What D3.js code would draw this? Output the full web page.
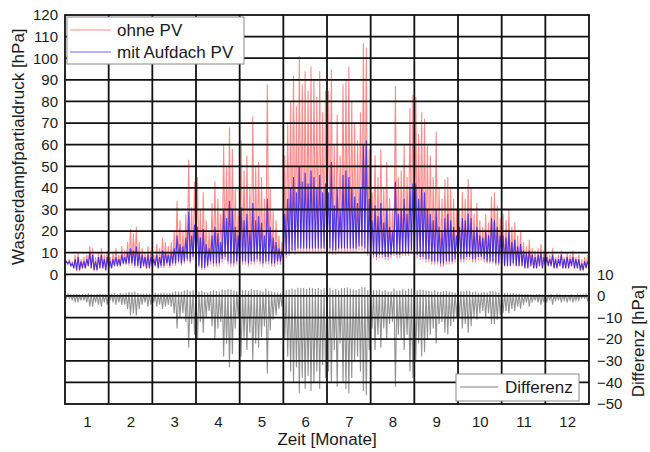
<!DOCTYPE html>
<html>
<head>
<meta charset="utf-8">
<script src="https://cdn.jsdelivr.net/npm/d3@7"></script>
<style>
  body { margin: 0; background: #fff; }
  svg { font-family: "Liberation Sans", Arial, sans-serif; }
</style>
</head>
<body>
<div id="chart"></div>
<script>
// Monate (Achsenbeschriftung)
var monate = [1, 2, 3, 4, 5, 6, 7, 8, 9, 10, 11, 12];
var linkeTicks = [0, 10, 20, 30, 40, 50, 60, 70, 80, 90, 100, 110, 120];
var rechteTicks = [-50, -40, -30, -20, -10, 0, 10];

// je Monat 15 Abschnitte (ca. 2 Tage), Werte aus dem Bild abgelesen
// ohne PV: Spitzen [hPa]
var ohnePV = [
  6, 7, 6, 9, 10, 7, 8, 9, 13, 12, 8, 10, 12, 9, 11,
  8, 10, 12, 9, 13, 11, 15, 21, 19, 22, 15, 12, 10, 13, 11,
  9, 14, 12, 17, 15, 13, 15, 20, 34, 25, 20, 28, 53, 31, 43,
  45, 30, 38, 25, 20, 33, 43, 35, 28, 60, 50, 68, 58, 40, 30,
  62, 48, 55, 40, 73, 50, 52, 45, 35, 88, 40, 30, 25, 18, 15,
  55, 70, 80, 92, 78, 101, 88, 94, 85, 96, 90, 82, 94, 75, 85,
  85, 95, 60, 74, 55, 88, 90, 96, 80, 70, 62, 75, 107, 105, 58,
  38, 55, 45, 58, 40, 52, 35, 30, 87, 45, 48, 60, 45, 77, 83,
  82, 65, 75, 72, 60, 55, 45, 66, 40, 35, 44, 45, 40, 35, 30,
  30, 38, 35, 44, 40, 28, 33, 25, 22, 28, 24, 36, 38, 32, 26,
  28, 25, 30, 22, 24, 18, 20, 15, 13, 16, 12, 11, 12, 14, 11,
  10, 9, 12, 8, 9, 11, 8, 10, 9, 11, 8, 9, 7, 8, 9
];
// ohne PV: untere Werte (nachts)
var ohneBasis = [
  4.5, 4.5, 3.5, 2.5, 1.5, 1.5, 2.5, 2.5, 3.5, 2.5, 1.5, 1.5, 2.5, 2.5, 1.5,
  2.5, 2.5, 3.5, 3.5, 3.5, 4.5, 4.5, 4, 4, 3, 3, 2.5, 3.5, 2.5, 2.5,
  3.5, 3.5, 2.5, 3, 3, 4, 3, 4, 4, 5, 4, 5, 6, 5, 6.5,
  5.5, 3, 2, 2, 3, 4.5, 3.5, 3.5, 3.5, 5.5, 6.5, 4.5, 3.5, 3.5, 4.5,
  5.5, 4.5, 4.5, 3.5, 4.5, 4.5, 5.5, 4.5, 3.5, 4.5, 4.5, 3.5, 3.5, 4.5, 4.5,
  6.5, 7.5, 8.5, 9.5, 9, 10, 10, 10, 10, 10, 10, 10, 10, 10, 10,
  10, 10, 9, 9, 10, 10, 10, 10, 10, 10, 10, 11, 11, 10, 8.5,
  8.5, 7.5, 6.5, 7.5, 7.5, 6.5, 6.5, 7.5, 8.5, 7.5, 7.5, 8.5, 8.5, 8.5, 9.5,
  7.5, 7.5, 6.5, 6.5, 5.5, 5.5, 4.5, 4.5, 4.5, 3.5, 3.5, 4.5, 4.5, 4.5, 5.5,
  6.5, 5.5, 5.5, 6.5, 6.5, 5.5, 5.5, 6.5, 6.5, 5.5, 5, 5, 5, 4, 4,
  4, 3.5, 3.5, 3.5, 4, 3.5, 3.5, 3.5, 2.5, 2.5, 3.5, 2.5, 2.5, 3.5, 2.5,
  3.5, 3.5, 3.5, 2.5, 2.5, 3.5, 2.5, 2.5, 2.5, 3.5, 2.5, 2.5, 1.5, 1.5, 2.5
];
// mit Aufdach PV: Spitzen
var mitPV = [
  6, 6, 5, 7, 8, 6, 6, 7, 10, 9, 6, 8, 9, 7, 8,
  6, 7, 8, 7, 9, 8, 10, 12, 11, 13, 10, 9, 8, 9, 8,
  7, 9, 8, 11, 10, 9, 10, 12, 18, 14, 13, 17, 29, 18, 23,
  22, 17, 21, 14, 12, 18, 22, 19, 15, 30, 26, 34, 30, 22, 18,
  31, 25, 28, 20, 33, 25, 27, 24, 18, 35, 22, 17, 15, 12, 11,
  28, 35, 40, 45, 38, 50, 43, 47, 42, 48, 45, 40, 46, 38, 42,
  38, 52, 32, 40, 30, 46, 48, 45, 40, 36, 33, 40, 60, 62, 35,
  25, 32, 27, 33, 24, 30, 22, 20, 43, 28, 30, 35, 28, 40, 42,
  42, 35, 40, 38, 30, 28, 25, 30, 22, 20, 26, 28, 25, 22, 18,
  22, 26, 25, 28, 26, 20, 22, 18, 17, 20, 18, 26, 25, 22, 18,
  18, 17, 20, 15, 16, 13, 14, 11, 10, 11, 9, 8, 9, 10, 8,
  8, 7, 9, 7, 7, 9, 7, 8, 7, 8, 7, 7, 5, 6, 6
];
// mit Aufdach PV: untere Werte
var mitBasis = [
  5, 5, 4, 3, 2, 2, 3, 3, 4, 3, 2, 2, 3, 3, 2,
  3, 3, 4, 4, 4, 5, 5, 5, 5, 4, 4, 3, 4, 3, 3,
  4, 4, 3, 4, 4, 5, 4, 5, 5, 6, 5, 6, 7, 6, 8,
  7, 4, 3, 3, 4, 6, 5, 5, 5, 7, 8, 6, 5, 5, 6,
  7, 6, 6, 5, 6, 6, 7, 6, 5, 6, 6, 5, 5, 6, 6,
  8, 9, 10, 11, 11, 12, 12, 12, 12, 12, 12, 12, 12, 12, 12,
  12, 12, 11, 11, 12, 12, 12, 12, 12, 12, 12, 13, 13, 12, 10,
  10, 9, 8, 9, 9, 8, 8, 9, 10, 9, 9, 10, 10, 10, 11,
  9, 9, 8, 8, 7, 7, 6, 6, 6, 5, 5, 6, 6, 6, 7,
  8, 7, 7, 8, 8, 7, 7, 8, 8, 7, 6, 6, 6, 5, 5,
  5, 4, 4, 4, 5, 4, 4, 4, 3, 3, 4, 3, 3, 4, 3,
  4, 4, 4, 3, 3, 4, 3, 3, 3, 4, 3, 3, 2, 2, 3
];
// Differenz: tiefste Werte (mittags)
var diffMin = [
  -1, -1, -2, -3, -3, -2, -2, -3, -5, -5, -3, -4, -5, -3, -4,
  -2, -3, -4, -3, -4, -4, -6, -9, -8, -9, -6, -4, -3, -5, -4,
  -3, -5, -4, -6, -5, -4, -5, -8, -15, -10, -8, -12, -24, -13, -18,
  -20, -12, -17, -10, -7, -14, -20, -15, -12, -28, -22, -33, -27, -15, -10,
  -28, -20, -25, -17, -30, -22, -24, -19, -14, -36, -16, -11, -9, -6, -5,
  -20, -28, -35, -40, -33, -45, -38, -43, -37, -44, -40, -35, -43, -32, -38,
  -35, -40, -25, -42, -22, -40, -43, -45, -38, -30, -28, -35, -44, -46, -25,
  -15, -25, -18, -24, -15, -20, -13, -12, -42, -18, -20, -25, -18, -35, -38,
  -30, -22, -28, -26, -20, -18, -15, -22, -13, -12, -17, -18, -14, -12, -10,
  -10, -15, -13, -17, -14, -10, -11, -8, -7, -10, -8, -13, -13, -11, -9,
  -8, -7, -8, -6, -7, -5, -6, -4, -3, -5, -3, -2, -3, -4, -3,
  -3, -2, -4, -2, -2, -3, -2, -3, -2, -3, -2, -2, -1, -1, -2
];
// Differenz: hoechste Werte (nachts)
var diffMax = [
  0.5, 0.8, 0.6, 0.7, 1.0, 0.6, 0.8, 0.7, 1.2, 1.0, 0.7, 0.9, 1.1, 0.8, 0.9,
  0.8, 1.0, 1.2, 0.9, 1.3, 1.1, 1.5, 1.8, 1.6, 1.9, 1.3, 1.1, 1.0, 1.2, 1.0,
  1.0, 1.3, 1.1, 1.5, 1.4, 1.2, 1.5, 1.7, 2.2, 2.0, 1.8, 2.5, 2.8, 2.3, 2.6,
  2.5, 2.0, 2.4, 1.8, 1.6, 2.2, 2.6, 2.3, 2.0, 3.0, 2.8, 3.2, 3.0, 2.5, 2.2,
  3.0, 2.6, 2.8, 2.3, 3.2, 2.7, 2.9, 2.5, 2.1, 3.5, 2.4, 2.0, 1.8, 1.6, 1.5,
  2.2, 2.6, 3.0, 3.4, 3.0, 3.8, 3.5, 3.7, 3.3, 3.8, 3.6, 3.2, 3.7, 3.0, 3.4,
  3.4, 3.8, 2.8, 3.2, 2.6, 3.6, 3.7, 3.9, 3.4, 3.0, 2.8, 3.2, 4.0, 4.0, 2.6,
  2.4, 2.8, 2.5, 2.9, 2.3, 2.7, 2.1, 2.0, 3.6, 2.5, 2.6, 3.0, 2.5, 3.3, 3.4,
  3.2, 2.6, 3.0, 2.9, 2.5, 2.3, 2.1, 2.6, 2.0, 1.8, 2.2, 2.3, 2.0, 1.8, 1.6,
  2.0, 2.4, 2.2, 2.6, 2.4, 1.8, 2.0, 1.6, 1.5, 1.8, 1.6, 2.2, 2.2, 1.9, 1.6,
  1.4, 1.3, 1.5, 1.2, 1.3, 1.0, 1.1, 0.9, 0.8, 0.9, 0.7, 0.6, 0.7, 0.8, 0.6,
  0.7, 0.6, 0.8, 0.5, 0.6, 0.7, 0.5, 0.6, 0.5, 0.7, 0.5, 0.5, 0.4, 0.5, 0.6
];

var proMonat = 15;

// set the dimensions and margins
var margin = {top: 15, right: 61, bottom: 48, left: 65},
    width = 650 - margin.left - margin.right,
    height = 452 - margin.top - margin.bottom;

var svg = d3.select('#chart').append('svg')
  .attr('width', 650)
  .attr('height', 452);

var g = svg.append('g')
  .attr('transform', 'translate(' + margin.left + ',' + margin.top + ')');

// scales
var x = d3.scaleLinear().domain([0, 12]).range([0, width]);
var y = d3.scaleLinear().domain([-60, 120]).range([height, 0]);
var yR = d3.scaleLinear().domain([-50, 130]).range([height, 0]);

g.append('clipPath').attr('id', 'clip')
  .append('rect').attr('width', width).attr('height', height);

// Zickzack: unten am Abschnittsanfang, Spitze in der Mitte
function zickzack(unten, oben) {
  var pts = [];
  unten.forEach(function(b, i) {
    pts.push([i / proMonat, b]);
    pts.push([(i + 0.5) / proMonat, oben[i]]);
  });
  pts.push([12, unten[unten.length - 1]]);
  return pts;
}

var lineL = d3.line().x(function(d) { return x(d[0]); }).y(function(d) { return y(d[1]); });
var lineR = d3.line().x(function(d) { return x(d[0]); }).y(function(d) { return yR(d[1]); });

var daten = g.append('g').attr('clip-path', 'url(#clip)');

daten.append('path')
  .attr('d', lineL(zickzack(ohneBasis, ohnePV)))
  .attr('fill', 'none')
  .attr('stroke', '#ff0000')
  .attr('stroke-opacity', 0.45)
  .attr('stroke-width', 1.1);

daten.append('path')
  .attr('d', lineL(zickzack(mitBasis, mitPV)))
  .attr('fill', 'none')
  .attr('stroke', '#0000ff')
  .attr('stroke-opacity', 0.7)
  .attr('stroke-width', 1.1);

daten.append('path')
  .attr('d', lineR(zickzack(diffMax, diffMin)))
  .attr('fill', 'none')
  .attr('stroke', '#808080')
  .attr('stroke-opacity', 0.85)
  .attr('stroke-width', 1.1);

// grid (liegt ueber den Daten)
var grid = g.append('g').attr('stroke', '#111').attr('stroke-width', 1.8);
grid.selectAll('.hg')
  .data(d3.range(-50, 120, 10))
  .enter().append('line')
  .attr('x1', 0).attr('x2', width)
  .attr('y1', function(d) { return y(d); })
  .attr('y2', function(d) { return y(d); });
grid.selectAll('.vg')
  .data(d3.range(1, 12))
  .enter().append('line')
  .attr('y1', 0).attr('y2', height)
  .attr('x1', function(d) { return x(d); })
  .attr('x2', function(d) { return x(d); });

g.append('rect')
  .attr('width', width).attr('height', height)
  .attr('fill', 'none').attr('stroke', '#111').attr('stroke-width', 1.8);

// axes
var yAxis = g.append('g')
  .call(d3.axisLeft(y).tickValues(linkeTicks).tickSize(0).tickPadding(7));
var yAxisR = g.append('g')
  .attr('transform', 'translate(' + width + ',0)')
  .call(d3.axisRight(yR).tickValues(rechteTicks).tickSize(0).tickPadding(8));
var xAxis = g.append('g')
  .attr('transform', 'translate(0,' + height + ')')
  .call(d3.axisBottom(x)
    .tickValues(monate.map(function(m) { return m - 0.5; }))
    .tickFormat(function(d) { return monate[Math.round(d - 0.5)]; })
    .tickSize(0).tickPadding(12));

[yAxis, yAxisR, xAxis].forEach(function(a) {
  a.select('.domain').remove();
  a.selectAll('text')
    .attr('font-family', '"Liberation Sans", Arial, sans-serif')
    .attr('font-size', 15)
    .attr('fill', '#1a1a1a');
});

// axis titles
svg.append('text')
  .attr('transform', 'translate(24,' + (margin.top + y(60) + 2) + ') rotate(-90)')
  .attr('text-anchor', 'middle')
  .attr('font-size', 17)
  .attr('fill', '#1a1a1a')
  .text('Wasserdampfpartialdruck [hPa]');

svg.append('text')
  .attr('transform', 'translate(644,' + (margin.top + yR(-20) + 2) + ') rotate(-90)')
  .attr('text-anchor', 'middle')
  .attr('font-size', 17)
  .attr('fill', '#1a1a1a')
  .text('Differenz [hPa]');

svg.append('text')
  .attr('x', margin.left + width / 2)
  .attr('y', 445)
  .attr('text-anchor', 'middle')
  .attr('font-size', 17)
  .attr('fill', '#1a1a1a')
  .text('Zeit [Monate]');

// legends
var leg1 = svg.append('g').attr('transform', 'translate(67,17)');
leg1.append('rect').attr('width', 177).attr('height', 47)
  .attr('fill', '#fff').attr('stroke', '#8a8a8a').attr('stroke-width', 1);
[['ohne PV', '#ff0000', 0.45], ['mit Aufdach PV', '#0000ff', 0.6]].forEach(function(e, i) {
  var yy = 13 + i * 22;
  leg1.append('line').attr('x1', 3).attr('x2', 44).attr('y1', yy).attr('y2', yy)
    .attr('stroke', e[1]).attr('stroke-opacity', e[2]).attr('stroke-width', 1.2);
  leg1.append('text').attr('x', 50).attr('y', yy + 6)
    .attr('font-size', 17).attr('fill', '#1a1a1a').text(e[0]);
});

var leg2 = svg.append('g').attr('transform', 'translate(456,374)');
leg2.append('rect').attr('width', 123).attr('height', 27)
  .attr('fill', '#fff').attr('stroke', '#8a8a8a').attr('stroke-width', 1);
leg2.append('line').attr('x1', 4).attr('x2', 42).attr('y1', 13).attr('y2', 13)
  .attr('stroke', '#808080').attr('stroke-width', 1);
leg2.append('text').attr('x', 49).attr('y', 19)
  .attr('font-size', 17).attr('fill', '#1a1a1a').text('Differenz');
</script>
</body>
</html>
